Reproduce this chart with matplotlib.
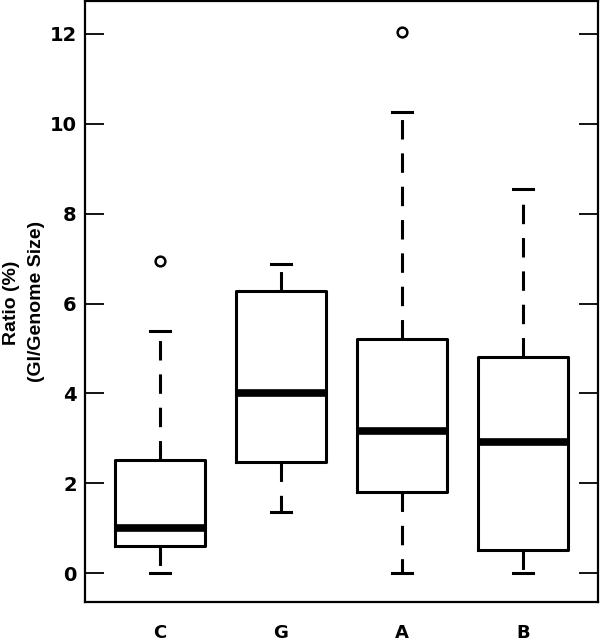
import matplotlib
matplotlib.use("Agg")
import matplotlib.pyplot as plt

plt.rcParams['font.family'] = ['Liberation Sans', 'DejaVu Sans']
plt.rcParams['lines.scale_dashes'] = False

categories = ["C", "G", "A", "B"]
q1 = [0.60, 2.47, 1.80, 0.52]
med = [1.00, 4.00, 3.17, 2.93]
q3 = [2.51, 6.27, 5.20, 4.82]
whislo = [0.00, 1.36, 0.00, 0.00]
whishi = [5.38, 6.87, 10.25, 8.55]
fliers = [[6.95], [], [12.05], []]
yticks = [0, 2, 4, 6, 8, 10, 12]

stats = []
for i, c in enumerate(categories):
    stats.append(dict(label=c, med=med[i], q1=q1[i], q3=q3[i],
                      whislo=whislo[i], whishi=whishi[i], fliers=fliers[i]))

fig = plt.figure(figsize=(6.0, 6.43), dpi=100)
ax = fig.add_axes([85/600, 1 - 602/643, (598-85)/600, (602-1)/643])

ax.bxp(stats, positions=[1, 2, 3, 4], widths=0.75, showfliers=True,
       boxprops=dict(color='black', linewidth=2.2),
       medianprops=dict(color='black', linewidth=5.5, solid_capstyle='butt'),
       whiskerprops=dict(color='black', linewidth=2.2, linestyle=(0, (14, 10))),
       capprops=dict(color='black', linewidth=2.2),
       capwidths=0.17,
       flierprops=dict(marker='o', markersize=7, markerfacecolor='none',
                       markeredgecolor='black', markeredgewidth=1.8))

ax.set_xlim(0.38, 4.62)
ax.set_ylim(-0.64, 12.73)
ax.set_yticks(yticks)
ax.set_yticklabels([str(t) for t in yticks], fontsize=14, fontweight='bold',
                   family=['DejaVu Sans'])
ax.set_xticks([1, 2, 3, 4])
ax.set_xticklabels(categories, fontsize=13, fontweight='bold',
                   family=['DejaVu Sans'])
ax.tick_params(axis='y', direction='in', length=14, width=1.3, pad=6,
               left=True, right=True)
ax.tick_params(axis='x', length=0, pad=15.5)
for s in ax.spines.values():
    s.set_linewidth(1.6)

fig.text(12/600, 1 - 303/643, "Ratio (%)", rotation=90, ha='center', va='center',
         fontsize=14, fontweight='bold')
fig.text(37/600, 1 - 301/643, "(GI/Genome Size)", rotation=90, ha='center',
         va='center', fontsize=14, fontweight='bold')

fig.savefig("out.png", dpi=100)
